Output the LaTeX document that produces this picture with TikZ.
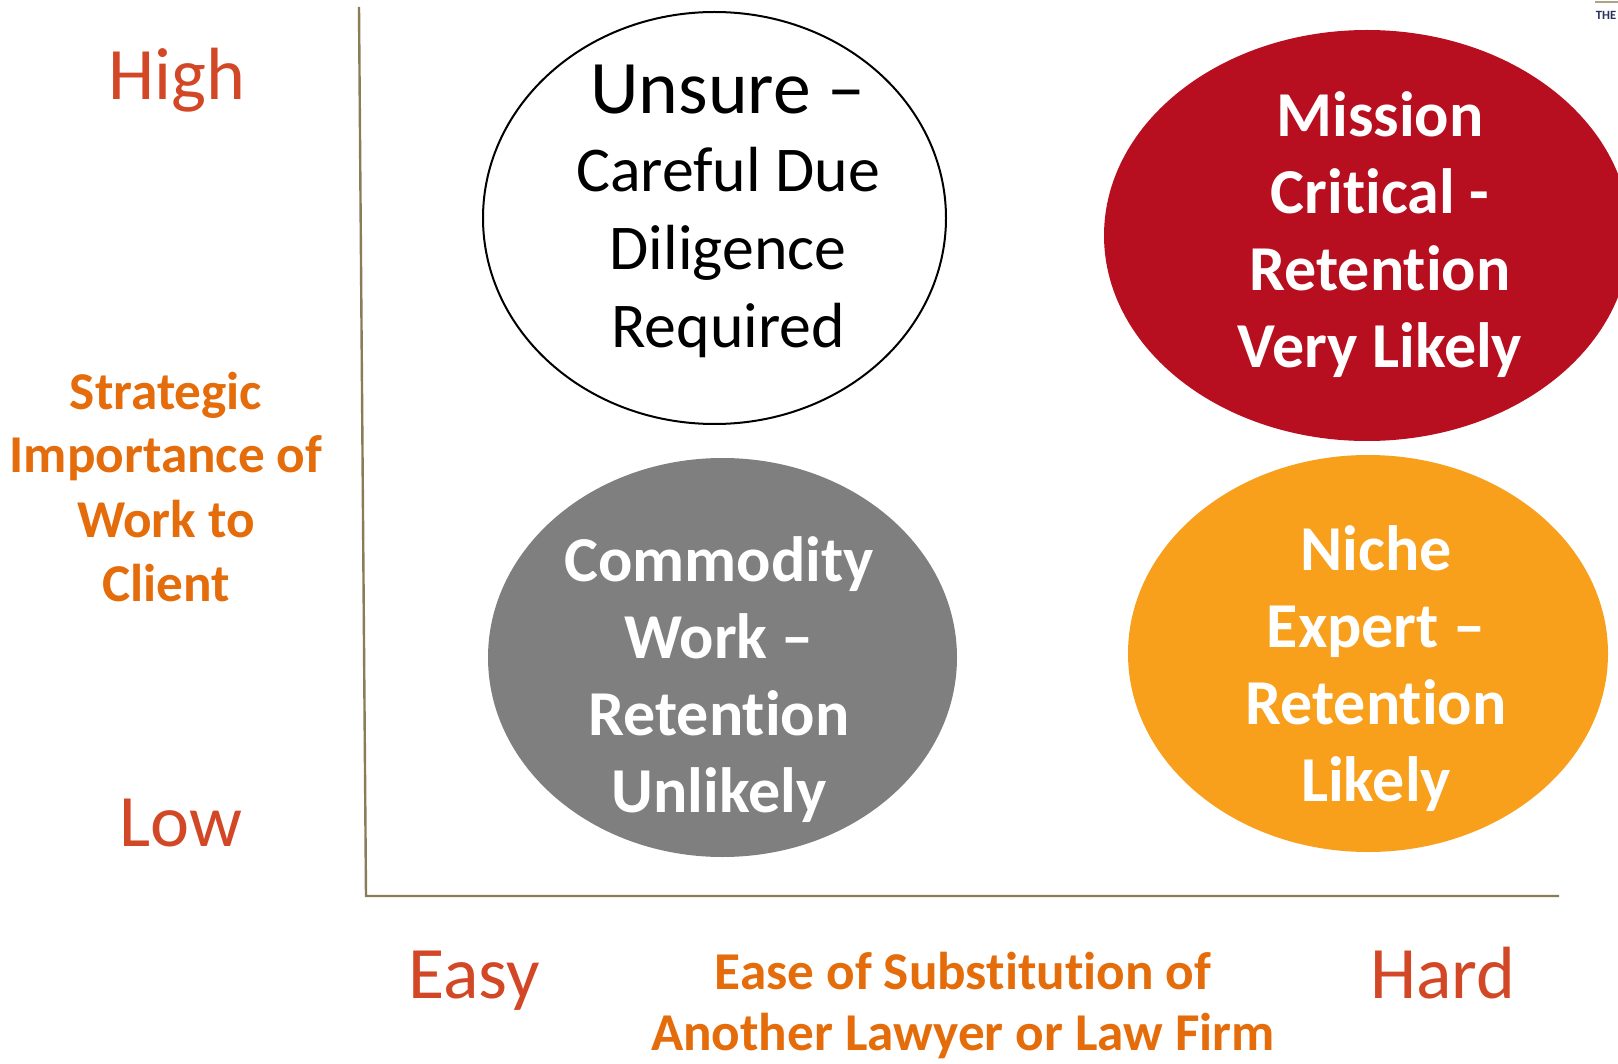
\documentclass[tikz,border=0pt]{standalone}
\usepackage{fontspec}
\setmainfont{Carlito}[Ligatures={TeX,NoCommon}]
\usetikzlibrary{shapes.geometric}

\definecolor{axisbrown}{HTML}{8C7B57}
\definecolor{levelred}{HTML}{D24726}
\definecolor{titleorange}{HTML}{E46C0A}
\definecolor{criticalred}{HTML}{B80F20}
\definecolor{commoditygrey}{HTML}{7F7F7F}
\definecolor{nicheorange}{HTML}{F89F1B}
\definecolor{logonavy}{HTML}{2B2D5E}

\tikzset{
	level/.style={anchor=base, inner sep=0pt, text=levelred, font=\fontsize{37}{37}\selectfont},
	axistitle/.style={anchor=base, inner sep=0pt, text=titleorange, font=\bfseries\fontsize{26.6}{30}\selectfont},
	bubble/.style={ellipse, inner sep=0pt},
	plaintext/.style={anchor=base, inner sep=0pt, font=\fontsize{31.9}{31.9}\selectfont},
	boldtext/.style={anchor=base, inner sep=0pt, text=white, font=\bfseries\fontsize{32}{32}\selectfont},
	axis/.style={axisbrown, line width=1.2pt}
}

\begin{document}
\begin{tikzpicture}[x=0.5pt, y=-0.5pt]
		\useasboundingbox (0, 0) rectangle (1618, 1064);
		\clip (0, 0) rectangle (1618, 1064);

		% the four quadrant bubbles
		\node [bubble, draw, line width=1pt, minimum width=231.5pt, minimum height=206pt] (unsure) at (714.5, 218) {};
		\node [bubble, fill=criticalred, minimum width=263pt, minimum height=205.5pt] (critical) at (1367, 235.5) {};
		\node [bubble, fill=commoditygrey, minimum width=234.5pt, minimum height=199.5pt] (commodity) at (722.5, 657.5) {};
		\node [bubble, fill=nicheorange, minimum width=240pt, minimum height=198.5pt] (niche) at (1368, 653.5) {};

		\node [plaintext, font=\fontsize{37.8}{37.8}\selectfont] (unsure0) at (728, 114) {Unsure –};
		\foreach \txt [count=\k] in {Careful Due, Diligence, Required} {
			\node [plaintext] (unsure\k) at (728, 114 + 78*\k) {\txt};
		}

		\foreach \txt [count=\k] in {Mission, Critical -, Retention, Very Likely} {
			\node [boldtext] (critical\k) at (1380, 60 + 77*\k) {\txt};
		}

		\foreach \txt [count=\k] in {Commodity, Work –, Retention, Unlikely} {
			\node [boldtext] (commodity\k) at (719, 504 + 77*\k) {\txt};
		}

		\foreach \txt [count=\k] in {Niche, Expert –, Retention, Likely} {
			\node [boldtext] (niche\k) at (1376, 493 + 77*\k) {\txt};
		}

		% axes
		\coordinate (ytop) at (359, 7);
		\coordinate (origin) at (366, 896);
		\coordinate (xend) at (1559, 896);
		\draw [axis] (ytop) -- (origin) -- (xend);

		\node [level] (high) at (177, 100) {High};
		\node [level] (low) at (181, 846) {Low};
		\node [level] (easy) at (474, 998) {Easy};
		\node [level] (hard) at (1443, 998) {Hard};

		\foreach \txt [count=\k] in {Strategic, Importance of, Work to, Client} {
			\node [axistitle] (ytitle\k) at (166, 345 + 64*\k) {\txt};
		}
		\node [axistitle] (xtitle1) at (963, 989) {Ease of Substitution of};
		\node [axistitle] (xtitle2) at (963, 1050) {Another Lawyer or Law Firm};

		% cut-off logo in the corner
		\draw [axisbrown!70, line width=1pt] (1595, 2) -- (1618, 2);
		\node [anchor=base, inner sep=0pt, text=logonavy, font=\bfseries\fontsize{6.3}{6.3}\selectfont] (logo) at (1606, 20) {THE};
	\end{tikzpicture}
\end{document}
